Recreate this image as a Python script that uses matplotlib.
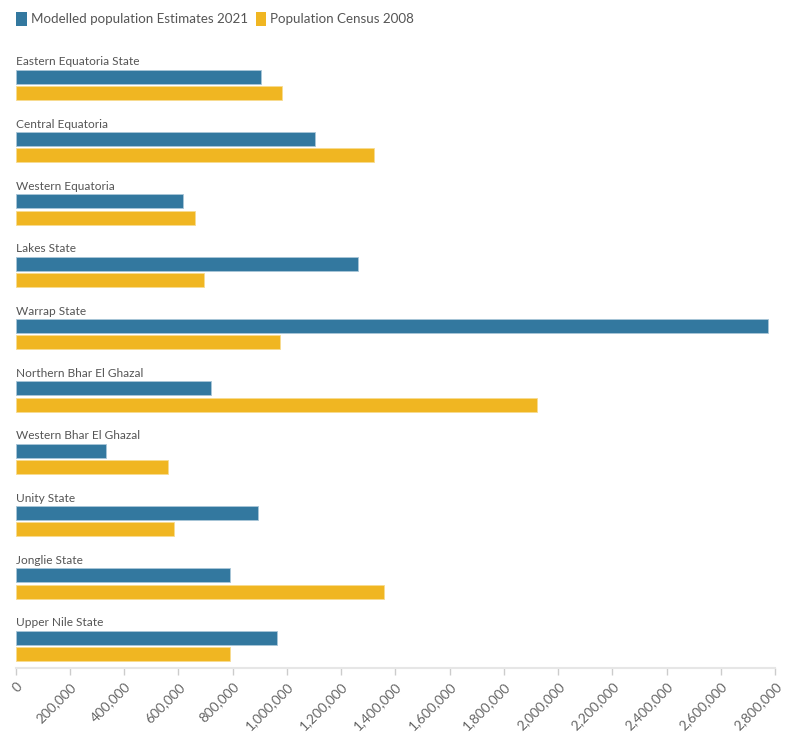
import numpy as np
import matplotlib.pyplot as plt
from matplotlib.patches import Patch
from matplotlib.ticker import FuncFormatter

plt.rcParams['font.family'] = ['Lato', 'DejaVu Sans']

states = ['Eastern Equatoria State', 'Central Equatoria', 'Western Equatoria',
          'Lakes State', 'Warrap State', 'Northern Bhar El Ghazal',
          'Western Bhar El Ghazal', 'Unity State', 'Jonglie State', 'Upper Nile State']
est_2021 = [904000, 1103000, 618000, 1263000, 2773000, 719000, 332000, 892000, 790000, 964000]
census_2008 = [981000, 1322000, 662000, 694000, 973000, 1922000, 561000, 585000, 1358000, 789000]
xticks = np.arange(0, 2800001, 200000)

blue = '#33789f'
yellow = '#f0b622'
grey = '#555555'

fig = plt.figure(figsize=(7.96, 7.41), dpi=100)
ax = fig.add_axes([15.7 / 796, 1 - 668 / 741, (775 - 15.7) / 796, (668 - 50) / 741])

y = np.arange(len(states))
h = 14 / 62.3
ax.barh(y + 0.24, est_2021, height=h, color=blue, edgecolor='#a9c6d8', linewidth=0.6)
ax.barh(y + 0.50, census_2008, height=h, color=yellow, edgecolor='#f8dc90', linewidth=0.6)

for i, s in enumerate(states):
    ax.text(0, i, s, fontsize=8.6, color=grey, va='center', ha='left')

ax.set_xlim(0, 2800000)
ax.set_ylim(9.727, -0.19)
ax.set_yticks([])
ax.set_xticks(xticks)
ax.xaxis.set_major_formatter(FuncFormatter(lambda v, p: f'{int(v):,}'))
for lab in ax.get_xticklabels():
    lab.set_rotation(45)
    lab.set_ha('right')
    lab.set_rotation_mode('anchor')
ax.tick_params(axis='x', colors='#cccccc', labelcolor='#666666', labelsize=9.8,
               length=5, width=1, pad=4)
for side in ['top', 'right', 'left']:
    ax.spines[side].set_visible(False)
ax.spines['bottom'].set_color('#e6e6e6')
ax.spines['bottom'].set_linewidth(1.5)

handles = [Patch(facecolor=blue, label='Modelled population Estimates 2021'),
           Patch(facecolor=yellow, label='Population Census 2008')]
fig.legend(handles=handles, loc='upper left', bbox_to_anchor=(0.005, 1.0), ncol=2,
           frameon=False, fontsize=9.6, handlelength=0.8, handleheight=1.2,
           handletextpad=0.3, columnspacing=0.6, labelcolor=grey)

fig.savefig('out.png', dpi=100)
